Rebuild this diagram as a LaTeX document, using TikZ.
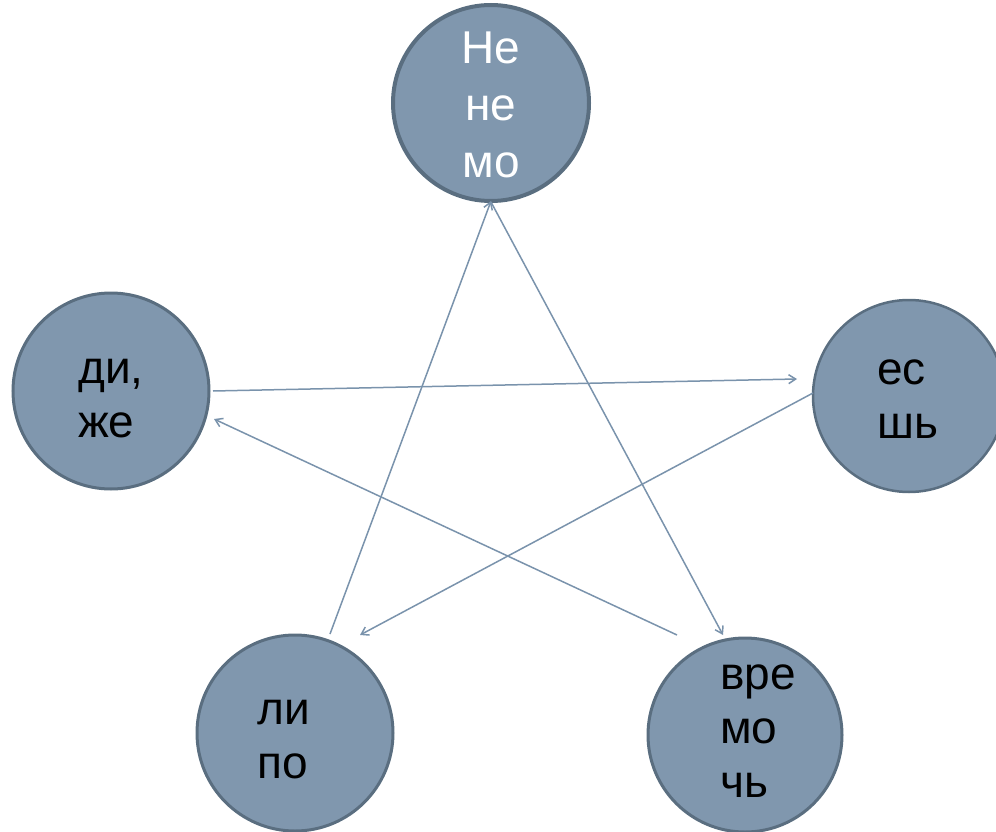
\documentclass[tikz,border=0pt]{standalone}
\usepackage{fontspec}
\setmainfont{Liberation Sans}
\usetikzlibrary{arrows.meta}
\definecolor{cfill}{RGB}{128,151,174}
\definecolor{cborder}{RGB}{90,110,128}
\definecolor{carrow}{RGB}{122,147,172}
\begin{document}
\begin{tikzpicture}[x=1pt,y=-1pt,
  disc/.style={circle,fill=cfill,draw=cborder,line width=3pt,minimum size=196pt,inner sep=0pt,outer sep=0pt},
  lbl/.style={inner sep=0pt,font=\fontsize{46}{54}\selectfont,align=left},
  conn/.style={draw=carrow,line width=1.5pt,-{Straight Barb[length=7pt,width=9pt,line width=1.5pt]}}]
\useasboundingbox (0,0) rectangle (996,832);
\node[disc,line width=4pt] (T) at (491,103) {};
\node[disc] (L) at (111,391) {};
\node[disc,minimum size=192pt,line width=2.5pt] (R) at (909,396) {};
\node[disc] (BL) at (295,733) {};
\node[disc,minimum size=194pt] (BR) at (745,735) {};
% labels
\node[lbl,align=center,text=white,anchor=base,font=\fontsize{46}{57}\selectfont] (tT) at ([shift={(0,74)}]T.center) {Не\\не\\мо};
\node[lbl,anchor=base west] (tL) at ([shift={(-33,46)}]L.center) {ди,\\же};
\node[lbl,anchor=base west] (tR) at ([shift={(-32,42)}]R.center) {ес\\шь};
\node[lbl,anchor=base west] (tBL) at ([shift={(-38,45)}]BL.center) {ли\\по};
\node[lbl,anchor=base west] (tBR) at ([shift={(-25,62)}]BR.center) {вре\\мо\\чь};
% connectors
\draw[conn] ([shift={(35,-99)}]BL.center) -- ([shift={(0,98)}]T.center);
\draw[conn] ([shift={(0,99)}]T.center) -- ([shift={(-22,-100)}]BR.center);
\draw[conn] ([shift={(102,0)}]L.center) -- ([shift={(-112,-17)}]R.center);
\draw[conn] ([shift={(-96,-3)}]R.center) -- ([shift={(65,-98)}]BL.center);
\draw[conn] ([shift={(-68,-100)}]BR.center) -- ([shift={(103,28)}]L.center);
\end{tikzpicture}
\end{document}
